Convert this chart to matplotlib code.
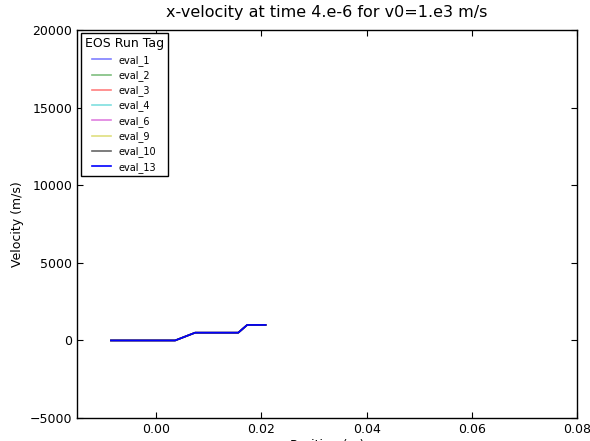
import matplotlib
matplotlib.use("Agg")
import matplotlib.pyplot as plt

position = [-0.0086, 0.0036, 0.0074, 0.0156, 0.0173, 0.0208]
velocity = [0, 0, 500, 500, 1000, 1000]
run_tags = ["eval_1", "eval_2", "eval_3", "eval_4", "eval_6", "eval_9", "eval_10", "eval_13"]
series_velocity = {tag: velocity for tag in run_tags}
colors = ["b", "g", "r", "c", "m", "y", "k", "b"]
alphas = [0.5, 0.5, 0.5, 0.5, 0.5, 0.5, 0.6, 1.0]

fig = plt.figure(figsize=(5.9, 4.41), dpi=100)
ax = fig.add_axes([0.131, 0.052, 0.847, 0.88])
for tag, c, a in zip(run_tags, colors, alphas):
    ax.plot(position, series_velocity[tag], color=c, alpha=a, lw=1.2, label=tag)

ax.set_xlim(-0.015, 0.08)
ax.set_ylim(-5000, 20000)
ax.set_xticks([0.0, 0.02, 0.04, 0.06, 0.08])
ax.set_xticklabels(["0.00", "0.02", "0.04", "0.06", "0.08"])
ax.set_yticks([-5000, 0, 5000, 10000, 15000, 20000])
ax.set_yticklabels(["\u22125000", "0", "5000", "10000", "15000", "20000"])
ax.tick_params(direction="in", top=True, right=True, labelsize=9, length=4)
for s in ax.spines.values():
    s.set_linewidth(1.0)
ax.set_title("x-velocity at time 4.e-6 for v0=1.e3 m/s", fontsize=11.5, pad=9)
ax.set_xlabel("Position (m)", fontsize=9, labelpad=2)
ax.set_ylabel("Velocity (m/s)", fontsize=9)
leg = ax.legend(title="EOS Run Tag", loc="upper left", fontsize=7, title_fontsize=9,
                fancybox=False, framealpha=1, edgecolor="black", borderaxespad=0.35,
                handlelength=2.0, labelspacing=0.45)
leg.get_frame().set_linewidth(1.0)
fig.savefig("out.png", dpi=100)
